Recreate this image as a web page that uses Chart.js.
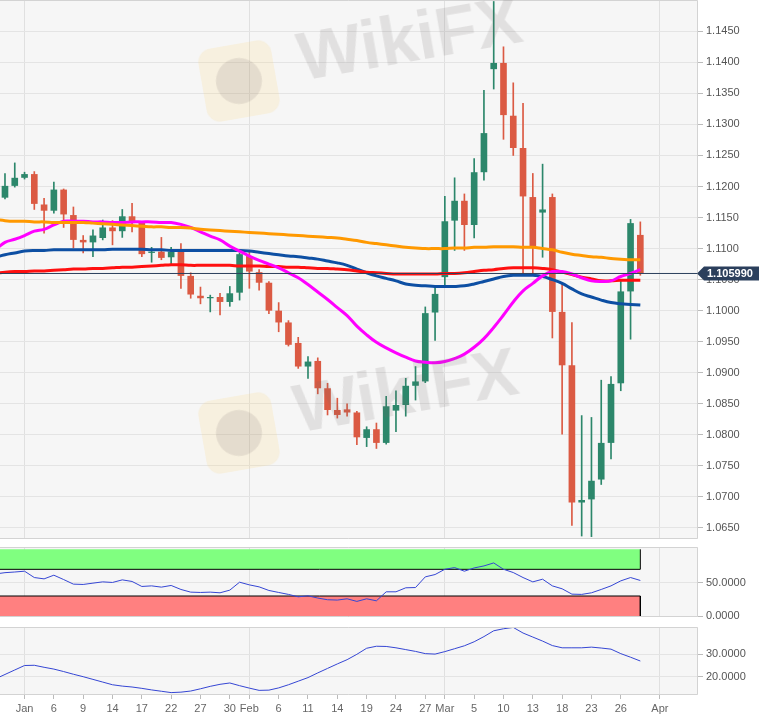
<!DOCTYPE html>
<html>
<head>
<meta charset="utf-8">
<script src="https://cdn.jsdelivr.net/npm/chart.js@4.4.1/dist/chart.umd.min.js"></script>
<style>
  body { margin: 0; background: #fff; }
  #wrap { position: relative; width: 759px; height: 724px; overflow: hidden; }
  #wrap canvas { position: absolute; left: 0; }
  .wm { position: absolute; pointer-events: none; font: bold 68px "Liberation Sans", Arial, sans-serif;
        color: rgba(110, 100, 100, 0.15); transform: rotate(-10deg); transform-origin: left center; white-space: nowrap; z-index: 5; }
  .logo { position: absolute; pointer-events: none; width: 74px; height: 74px; border-radius: 14px;
          background: rgba(250, 215, 130, 0.2); transform: rotate(-10deg); z-index: 5; }
  .logo::after { content: ''; position: absolute; left: 14px; top: 14px; width: 46px; height: 46px;
                 border-radius: 50%; background: rgba(110, 100, 100, 0.14); }
</style>
</head>
<body>
<div id="wrap">
  <canvas id="main" width="759" height="539" style="top:0"></canvas>
  <canvas id="rsi" width="759" height="78" style="top:547px"></canvas>
  <canvas id="adx" width="759" height="97" style="top:627px"></canvas>
  <div class="logo" style="left:202px; top:44px"></div>
  <div class="wm" style="left:298px; top:18px">WikiFX</div>
  <div class="logo" style="left:202px; top:396px"></div>
  <div class="wm" style="left:294px; top:370px">WikiFX</div>
</div>
<script>
// trading days, Dec 27 2019 .. Apr 1 2020 (last two have no data yet)
const days = [
  '12-27','12-30','12-31','01-01','01-02','01-03','01-06','01-07','01-08','01-09',
  '01-10','01-13','01-14','01-15','01-16','01-17','01-20','01-21','01-22','01-23',
  '01-24','01-27','01-28','01-29','01-30','01-31','02-03','02-04','02-05','02-06',
  '02-07','02-10','02-11','02-12','02-13','02-14','02-17','02-18','02-19','02-20',
  '02-21','02-24','02-25','02-26','02-27','02-28','03-02','03-03','03-04','03-05',
  '03-06','03-09','03-10','03-11','03-12','03-13','03-16','03-17','03-18','03-19',
  '03-20','03-23','03-24','03-25','03-26','03-27','03-30','03-31','04-01'
]
const tickDays = ['01-01','01-06','01-09','01-14','01-17','01-22','01-27','01-30','02-03','02-06','02-11','02-14',
  '02-19','02-24','02-27','03-02','03-05','03-10','03-13','03-18','03-23','03-26','04-01']
const tickText = ['Jan','6','9','14','17','22','27','30','Feb','6','11','14',
  '19','24','27','Mar','5','10','13','18','23','26','Apr']
const monthTicks = ['Jan','Feb','Mar','Apr']

const opens = [null,
  1.1182,1.1201,1.1214,1.1220,1.1171,1.1161,1.1195,1.1154,1.1114,1.1110,
  1.1117,1.1134,1.1128,1.1152,1.1142,1.1093,1.1095,1.1086,1.1095,1.1056,
  1.1024,1.1020,1.1022,1.1014,1.1029,1.1088,1.1062,1.1045,1.1000,1.0981,
  1.0948,1.0910,1.0919,1.0875,1.0840,1.0841,1.0836,1.0795,1.0809,1.0787,
  1.0839,1.0848,1.0879,1.0886,1.0997,1.1054,1.1145,1.1177,1.1138,1.1223,
  1.1389,1.1399,1.1314,1.1262,1.1183,1.1158,1.1183,1.0998,1.0912,1.0691,
  1.0696,1.0728,1.0787,1.0883,1.1031,1.1122]
const highs = [null,
  1.1221,1.1238,1.1223,1.1224,1.1181,1.1207,1.1196,1.1167,1.1121,1.1130,
  1.1146,1.1145,1.1163,1.1173,1.1143,1.1102,1.1118,1.1102,1.1108,1.1061,
  1.1038,1.1025,1.1028,1.1039,1.1093,1.1095,1.1066,1.1047,1.1013,1.0984,
  1.0957,1.0926,1.0924,1.0883,1.0859,1.0850,1.0838,1.0813,1.0819,1.0862,
  1.0871,1.0891,1.0910,1.1006,1.1038,1.1184,1.1214,1.1188,1.1245,1.1355,
  1.1498,1.1425,1.1367,1.1334,1.1221,1.1236,1.1188,1.1045,1.0981,1.0831,
  1.0828,1.0888,1.0894,1.1050,1.1147,1.1143]
const lows = [null,
  1.1180,1.1199,1.1212,1.1163,1.1125,1.1157,1.1134,1.1101,1.1093,1.1087,
  1.1114,1.1106,1.1118,1.1127,1.1087,1.1078,1.1082,1.1074,1.1036,1.1020,
  1.1011,1.0998,1.0993,1.1007,1.1017,1.1036,1.1033,1.0995,1.0966,1.0943,
  1.0907,1.0891,1.0866,1.0832,1.0827,1.0830,1.0784,1.0781,1.0778,1.0785,
  1.0805,1.0830,1.0856,1.0884,1.0952,1.1039,1.1097,1.1097,1.1117,1.1210,
  1.1357,1.1276,1.1250,1.1060,1.1060,1.1086,1.0956,1.0801,1.0654,1.0637,
  1.0636,1.0720,1.0761,1.0871,1.0954,1.1057]
const closes = [null,
  1.1201,1.1214,1.1220,1.1172,1.1161,1.1195,1.1155,1.1114,1.1110,1.1121,
  1.1134,1.1128,1.1152,1.1142,1.1091,1.1095,1.1085,1.1095,1.1056,1.1026,
  1.1020,1.1022,1.1014,1.1028,1.1091,1.1063,1.1045,1.1000,1.0981,1.0945,
  1.0910,1.0918,1.0875,1.0840,1.0832,1.0836,1.0796,1.0809,1.0787,1.0846,
  1.0848,1.0879,1.0886,1.0996,1.1027,1.1144,1.1177,1.1138,1.1223,1.1286,
  1.1399,1.1315,1.1262,1.1184,1.1104,1.1163,1.0998,1.0912,1.0691,1.0695,
  1.0726,1.0787,1.0882,1.1031,1.1141,1.10599]

// moving averages
const sma20 = [1.1098,
  1.1110,1.1115,1.1121,1.1128,1.1131,1.1138,1.1144,1.1144,1.1144,1.1143,
  1.1143,1.1142,1.1142,1.1143,1.1143,1.1143,1.1142,1.1142,1.1139,1.1134,
  1.1127,1.1120,1.1114,1.1104,1.1096,1.1088,1.1081,1.1075,1.1069,1.1061,
  1.1053,1.1042,1.1030,1.1018,1.1005,1.0992,1.0975,1.0961,1.0949,1.0940,
  1.0932,1.0925,1.0919,1.0917,1.0916,1.0918,1.0923,1.0930,1.0941,1.0955,
  1.0973,1.0993,1.1014,1.1032,1.1044,1.1056,1.1063,1.1063,1.1059,1.1053,
  1.1048,1.1047,1.1048,1.1055,1.1060,1.1066]
const sma50 = [1.1086,
  1.1090,1.1093,1.1096,1.1097,1.1097,1.1098,1.1098,1.1098,1.1098,1.1098,
  1.1098,1.1099,1.1099,1.1099,1.1099,1.1098,1.1098,1.1097,1.1097,1.1097,
  1.1097,1.1097,1.1097,1.1097,1.1097,1.1096,1.1094,1.1092,1.1090,1.1088,
  1.1087,1.1085,1.1083,1.1080,1.1077,1.1073,1.1067,1.1061,1.1056,1.1052,
  1.1048,1.1043,1.1041,1.1040,1.1039,1.1039,1.1039,1.1040,1.1043,1.1047,
  1.1051,1.1055,1.1057,1.1057,1.1057,1.1055,1.1050,1.1044,1.1035,1.1027,
  1.1022,1.1017,1.1013,1.1011,1.1010,1.1009]
const sma100 = [1.1060,
  1.1062,1.1063,1.1063,1.1064,1.1064,1.1065,1.1066,1.1067,1.1067,1.1068,
  1.1068,1.1069,1.1070,1.1070,1.1071,1.1072,1.1073,1.1074,1.1074,1.1073,
  1.1073,1.1073,1.1073,1.1073,1.1072,1.1072,1.1072,1.1071,1.1071,1.1070,
  1.1070,1.1069,1.1068,1.1068,1.1067,1.1066,1.1064,1.1062,1.1061,1.1060,
  1.1059,1.1059,1.1059,1.1059,1.1059,1.1060,1.1060,1.1061,1.1063,1.1065,
  1.1066,1.1068,1.1069,1.1069,1.1069,1.1068,1.1066,1.1062,1.1058,1.1054,
  1.1051,1.1048,1.1048,1.1049,1.1049,1.1049]
const sma200 = [1.1147,
  1.1145,1.1144,1.1144,1.1143,1.1143,1.1142,1.1142,1.1142,1.1142,1.1141,
  1.1140,1.1139,1.1138,1.1137,1.1136,1.1135,1.1135,1.1134,1.1134,1.1133,
  1.1131,1.1130,1.1129,1.1128,1.1127,1.1126,1.1125,1.1124,1.1123,1.1122,
  1.1121,1.1120,1.1119,1.1118,1.1117,1.1115,1.1113,1.1110,1.1108,1.1106,
  1.1104,1.1102,1.1101,1.1100,1.1100,1.1100,1.1101,1.1101,1.1102,1.1102,
  1.1103,1.1103,1.1103,1.1102,1.1102,1.1100,1.1098,1.1094,1.1091,1.1089,
  1.1087,1.1086,1.1084,1.1083,1.1082,1.1082]

// oscillators
const rsi = [63,
  65,66,67.2,57.7,55.7,61.2,54.7,47.8,47.3,49.3,
  51.2,50.3,54.2,51.8,44.3,45.2,43.3,45.8,39.8,35.8,
  35.3,35.8,34.8,38.8,50.7,46.7,43.7,38.3,35.3,32.4,
  28.8,30.3,26.9,24.4,23.9,25.8,21.9,25.8,22.8,36.3,
  36.3,42.3,42.7,58.7,62.2,70.1,72.6,67.2,72.1,75.1,
  79.6,70.1,65.2,57.7,51.2,55.2,45.2,40.8,32.8,32.4,
  34.8,39.8,45.2,52.7,57.7,53.3]
const adx = [19.0,
  21.0,23.0,25.0,25.1,24.2,23.4,22.3,21.1,20.0,18.8,
  17.6,16.4,15.8,15.4,14.8,14.1,13.5,12.9,13.1,13.6,
  14.6,15.7,16.6,17.2,16.0,14.9,13.9,14.0,15.0,16.4,
  18.0,19.6,21.7,23.7,25.7,27.6,30.0,32.7,33.6,33.5,
  32.9,32.1,31.3,30.3,30.1,31.2,32.5,33.8,35.6,37.9,
  40.5,41.4,42.0,39.5,37.7,35.9,33.9,32.9,32.9,32.9,
  33.2,32.8,32.3,30.3,28.7,27.0]

const priceTicks = [1.065,1.070,1.075,1.080,1.085,1.090,1.095,1.100,1.105,
  1.110,1.115,1.120,1.125,1.130,1.135,1.140,1.145]
const rsiTicks = [0, 50]
const rsiBands = [30, 70, 100]
const adxTicks = [20, 30]
const lastPrice = 1.10599

const UP = '#2c876b'
const DOWN = '#db5a43'
const FONT = '"Liberation Sans", Arial, sans-serif'
Chart.defaults.font.family = FONT
Chart.defaults.font.size = 11

const tickPos = tickDays.map((d) => days.indexOf(d))
const lastIdx = closes.length - 1
const pts = (arr) => arr.map((v, i) => ({ x: i, y: v }))

// shared time axis; below = space kept under the plot area
const xAxis = (showLabels, below) => ({
	type: 'linear',
	min: 0.49,
	max: 71.9,
	offset: false,
	afterBuildTicks: (s) => { s.ticks = tickPos.map((v) => ({ value: v })) },
	afterFit: (s) => {
		s.paddingLeft = 0
		s.paddingRight = 0
		s.height = below
	},
	ticks: {
		display: showLabels, autoSkip: false, maxRotation: 0, padding: 3, color: '#666',
		callback: (v, i) => tickText[i],
	},
	grid: {
		offset: false,
		drawTicks: showLabels,
		tickLength: 4,
		tickColor: '#bbb',
		color: (ctx) => ctx.tick && monthTicks.includes(tickText[tickPos.indexOf(ctx.tick.value)]) ? '#e0e0e0' : 'rgba(0,0,0,0)',
	},
	border: { display: false },
})

const yAxis = (min, max, ticks, digits) => ({
	type: 'linear',
	position: 'right',
	min: min,
	max: max,
	afterBuildTicks: (s) => { s.ticks = ticks.map((v) => ({ value: v })) },
	afterFit: (s) => {
		s.width = 61
		s.paddingTop = 0
		s.paddingBottom = 0
	},
	ticks: { color: '#555', padding: 3, callback: (v) => Number(v).toFixed(digits) },
	grid: { color: '#e4e4e4', tickLength: 5, tickColor: '#bbb' },
	border: { display: false },
})

// panel background and frame
const frame = {
	id: 'frame',
	beforeDraw(c) {
		const a = c.chartArea
		c.ctx.save()
		c.ctx.fillStyle = '#f6f6f6'
		c.ctx.fillRect(a.left, a.top, a.right - a.left, a.bottom - a.top)
		c.ctx.restore()
	},
	afterDraw(c) {
		const a = c.chartArea
		const ctx = c.ctx
		ctx.save()
		ctx.strokeStyle = '#d3d3d3'
		ctx.lineWidth = 1
		ctx.beginPath()
		ctx.moveTo(a.left, a.top + 0.5)
		ctx.lineTo(a.right - 0.5, a.top + 0.5)
		ctx.lineTo(a.right - 0.5, a.bottom - 0.5)
		ctx.lineTo(a.left, a.bottom - 0.5)
		ctx.stroke()
		ctx.restore()
	},
}

// current price tag on the price axis
const priceTag = {
	id: 'priceTag',
	afterDraw(c) {
		const y = c.scales.y.getPixelForValue(lastPrice)
		const x = c.chartArea.right
		const ctx = c.ctx
		ctx.save()
		ctx.fillStyle = '#2b3f5c'
		ctx.beginPath()
		ctx.moveTo(x - 1, y)
		ctx.lineTo(x + 6, y - 7)
		ctx.lineTo(c.width, y - 7)
		ctx.lineTo(c.width, y + 7)
		ctx.lineTo(x + 6, y + 7)
		ctx.closePath()
		ctx.fill()
		ctx.fillStyle = '#fff'
		ctx.font = 'bold 11px ' + FONT
		ctx.textBaseline = 'middle'
		ctx.fillText(lastPrice.toFixed(6), x + 9, y + 0.5)
		ctx.restore()
	},
}

const candleIdx = opens.map((o, i) => i).filter((i) => opens[i] !== null)
const candleColor = candleIdx.map((i) => (closes[i] >= opens[i] ? UP : DOWN))

const maLine = (arr, color, order) => ({
	type: 'line',
	data: pts(arr),
	borderColor: color,
	borderWidth: 3,
	pointRadius: 0,
	tension: 0.4,
	order: order,
})

const baseOptions = (x, y) => ({
	responsive: false,
	animation: false,
	layout: { padding: 0 },
	plugins: { legend: { display: false }, tooltip: { enabled: false } },
	scales: { x: x, y: y },
})

new Chart(document.getElementById('main'), {
	type: 'bar',
	data: {
		datasets: [
			{
				type: 'line',
				data: [{ x: 0, y: lastPrice }, { x: 72, y: lastPrice }],
				borderColor: '#2b3f5c',
				borderWidth: 1,
				pointRadius: 0,
				order: 0,
			},
			maLine(sma200, '#ff9900', 1),
			maLine(sma20, '#ff00ff', 2),
			maLine(sma100, '#ff1010', 3),
			maLine(sma50, '#0d4fa3', 4),
			{
				type: 'bar',
				data: candleIdx.map((i) => ({ x: i, y: [opens[i], closes[i]] })),
				backgroundColor: candleColor,
				barPercentage: 0.85,
				categoryPercentage: 0.8,
				minBarLength: 1,
				grouped: false,
				order: 5,
			},
			{
				type: 'bar',
				data: candleIdx.map((i) => ({ x: i, y: [lows[i], highs[i]] })),
				backgroundColor: candleColor,
				barThickness: 1,
				grouped: false,
				order: 6,
			},
		],
	},
	options: baseOptions(xAxis(false, 0), yAxis(1.06322, 1.15004, priceTicks, 4)),
	plugins: [frame, priceTag],
})

new Chart(document.getElementById('rsi'), {
	type: 'line',
	data: {
		datasets: [
			{
				data: pts(rsi),
				borderColor: '#3546d4',
				borderWidth: 1,
				pointRadius: 0,
				tension: 0,
				order: 0,
			},
			{
				data: [{ x: 0, y: rsiBands[1] }, { x: lastIdx, y: rsiBands[1] }, { x: lastIdx, y: rsiBands[2] }],
				borderColor: '#000',
				borderWidth: 1,
				backgroundColor: '#80ff80',
				fill: { value: rsiBands[2] },
				pointRadius: 0,
				order: 1,
			},
			{
				data: [{ x: 0, y: rsiBands[0] }, { x: lastIdx, y: rsiBands[0] }, { x: lastIdx, y: -1.5 }],
				borderColor: '#000',
				borderWidth: 1,
				backgroundColor: '#ff8080',
				fill: 'start',
				pointRadius: 0,
				order: 2,
			},
		],
	},
	options: baseOptions(xAxis(false, 8), yAxis(-1.5, 103.5, rsiTicks, 4)),
	plugins: [frame],
})

new Chart(document.getElementById('adx'), {
	type: 'line',
	data: {
		datasets: [
			{
				data: pts(adx),
				borderColor: '#3546d4',
				borderWidth: 1,
				pointRadius: 0,
				tension: 0,
			},
		],
	},
	options: baseOptions(xAxis(true, 29), yAxis(11.83, 42.19, adxTicks, 4)),
	plugins: [frame],
})
</script>
</body>
</html>
